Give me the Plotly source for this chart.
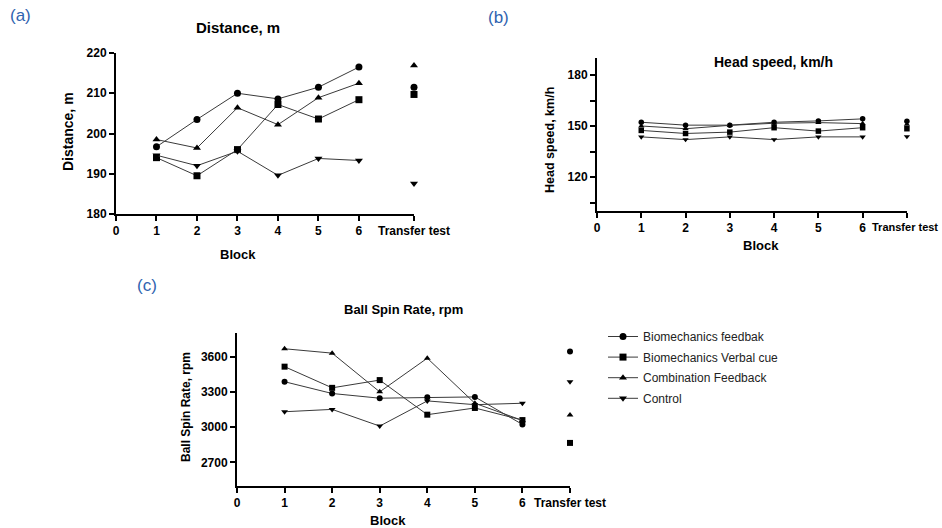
import plotly.graph_objects as go

# ---------------- data ----------------
blocks = [1, 2, 3, 4, 5, 6]
x_tick_labels = ["0", "1", "2", "3", "4", "5", "6", "Transfer test"]
series_names = ["Biomechanics feedbak", "Biomechanics Verbal cue",
                "Combination Feedback", "Control"]
series_symbols = ["circle", "square", "triangle-up", "triangle-down"]

# (a) Distance, m
dist_bio = [196.7, 203.5, 210.0, 208.6, 211.5, 216.5]
dist_verbal = [194.0, 189.5, 196.0, 207.2, 203.6, 208.4]
dist_comb = [198.5, 196.4, 206.4, 202.2, 208.9, 212.5]
dist_control = [194.6, 192.0, 195.6, 189.6, 193.8, 193.3]
dist_transfer = [211.5, 209.7, 216.9, 187.6]

# (b) Head speed, km/h
head_bio = [152.2, 150.5, 150.5, 152.2, 153.0, 154.2]
head_verbal = [147.4, 145.6, 146.4, 149.0, 147.0, 149.0]
head_comb = [150.0, 148.4, 150.4, 151.6, 152.0, 151.4]
head_control = [143.6, 142.0, 143.6, 142.0, 143.6, 143.6]
head_transfer = [152.8, 148.4, 151.0, 143.8]

# (c) Ball Spin Rate, rpm
spin_bio = [3386, 3286, 3246, 3254, 3257, 3023]
spin_verbal = [3514, 3334, 3400, 3106, 3163, 3060]
spin_comb = [3666, 3629, 3300, 3586, 3203, 3057]
spin_control = [3131, 3151, 3009, 3223, 3191, 3203]
spin_transfer = [3643, 2866, 3103, 3386]

W, H = 942, 528
FONT = "Liberation Sans, Arial, sans-serif"

fig = go.Figure()

panels = [
    dict(ax="", data=[dist_bio, dist_verbal, dist_comb, dist_control], tr=dist_transfer,
         trx=7.36, xmax=7.36, ms=7, xpx=(116, 414), ypx=(53, 214), yr=[180, 220],
         yt=[180, 190, 200, 210, 220], ytt=["180", "190", "200", "210", "220"],
         xtt=x_tick_labels),
    dict(ax="2", data=[head_bio, head_verbal, head_comb, head_control], tr=head_transfer,
         trx=7.0, xmax=7.002, ms=5.5, xpx=(597, 907), ypx=(58, 211), yr=[100, 190],
         yt=[105, 120, 135, 150, 165, 180], ytt=["", "120", "", "150", "", "180"],
         xtt=x_tick_labels[:-1] + [" "]),
    dict(ax="3", data=[spin_bio, spin_verbal, spin_comb, spin_control], tr=spin_transfer,
         trx=7.0, xmax=7.0, ms=6, xpx=(237, 570), ypx=(333, 486), yr=[2500, 3800],
         yt=[2700, 3000, 3300, 3600], ytt=["2700", "3000", "3300", "3600"],
         xtt=x_tick_labels),
]

for pi, p in enumerate(panels):
    xa = "x" + p["ax"]
    ya = "y" + p["ax"]
    for si, vals in enumerate(p["data"]):
        fig.add_trace(go.Scatter(
            x=blocks, y=vals, xaxis=xa, yaxis=ya, mode="lines+markers",
            name=series_names[si], showlegend=(pi == 0), legendgroup=series_names[si],
            line=dict(color="#3a3a3a", width=1),
            marker=dict(symbol=series_symbols[si], size=p["ms"],
                        color="black", line=dict(width=0)),
            cliponaxis=False))
        fig.add_trace(go.Scatter(
            x=[p["trx"]], y=[p["tr"][si]], xaxis=xa, yaxis=ya, mode="markers",
            showlegend=False, legendgroup=series_names[si],
            marker=dict(symbol=series_symbols[si], size=p["ms"], color="black",
                        line=dict(width=0)),
            cliponaxis=False))

    xaxis = dict(
        domain=[p["xpx"][0] / W, p["xpx"][1] / W], range=[0, p["xmax"]],
        anchor=ya, showline=True, linecolor="black", linewidth=2,
        ticks="outside", ticklen=5, tickwidth=1.5, tickcolor="black",
        tickvals=[0, 1, 2, 3, 4, 5, 6, p["trx"]], ticktext=p["xtt"],
        tickfont=dict(family=FONT, size=12, color="black", weight="bold"),
        showgrid=False, zeroline=False, fixedrange=True, automargin=False)
    yaxis = dict(
        domain=[1 - p["ypx"][1] / H, 1 - p["ypx"][0] / H], range=p["yr"],
        anchor=xa, showline=True, linecolor="black", linewidth=2,
        ticks="outside", ticklen=5, tickwidth=1.5, tickcolor="black",
        tickvals=p["yt"], ticktext=p["ytt"],
        tickfont=dict(family=FONT, size=12, color="black", weight="bold"),
        showgrid=False, zeroline=False, fixedrange=True, automargin=False)
    fig.update_layout(**{"xaxis" + p["ax"]: xaxis, "yaxis" + p["ax"]: yaxis})

annotations = []

def ann(text, x, y, size, bold=True, color="black", angle=0, xanchor="center"):
    annotations.append(dict(
        text=("<b>%s</b>" % text) if bold else text, x=x / W, y=1 - y / H,
        xref="paper", yref="paper", showarrow=False, xanchor=xanchor, yanchor="middle",
        textangle=angle, font=dict(family=FONT, size=size, color=color)))

BLUE = "#2f63b0"
ann("(a)", 20, 16, 17, bold=False, color=BLUE)
ann("(b)", 498, 17, 17, bold=False, color=BLUE)
ann("(c)", 147, 285, 17, bold=False, color=BLUE)

ann("Distance, m", 238, 28, 15)
ann("Head speed, km/h", 773, 62, 14)
ann("Ball Spin Rate, rpm", 403, 309, 13)

ann("Distance, m", 68, 132, 14, angle=-90)
ann("Head speed, km/h", 550, 140, 12.5, angle=-90)
ann("Ball Spin Rate, rpm", 186, 407, 12, angle=-90)

ann("Block", 238, 254, 13)
ann("Block", 761, 245, 13)
ann("Block", 388, 520, 13)

# panel (b): "Transfer test" tick label, kept inside the right edge of the figure
ann("Transfer test", 940, 227, 11, xanchor="right")

fig.update_layout(
    width=W, height=H, margin=dict(l=0, r=0, t=0, b=0, autoexpand=False),
    paper_bgcolor="white", plot_bgcolor="white",
    annotations=annotations,
    showlegend=True,
    legend=dict(x=603 / W, y=1 - 322 / H, xanchor="left", yanchor="top",
                bgcolor="rgba(0,0,0,0)", tracegroupgap=1.6, itemwidth=30,
                font=dict(family=FONT, size=12, color="#222222")),
)

fig.write_html(
    "out.html",
    config={"displayModeBar": False},
    post_script=(
        "document.documentElement.style.margin='0';"
        "document.body.style.margin='0';"
        "document.body.style.padding='0';"
        "document.documentElement.style.overflow='hidden';"
        "document.body.style.overflow='hidden';"
    ),
)
